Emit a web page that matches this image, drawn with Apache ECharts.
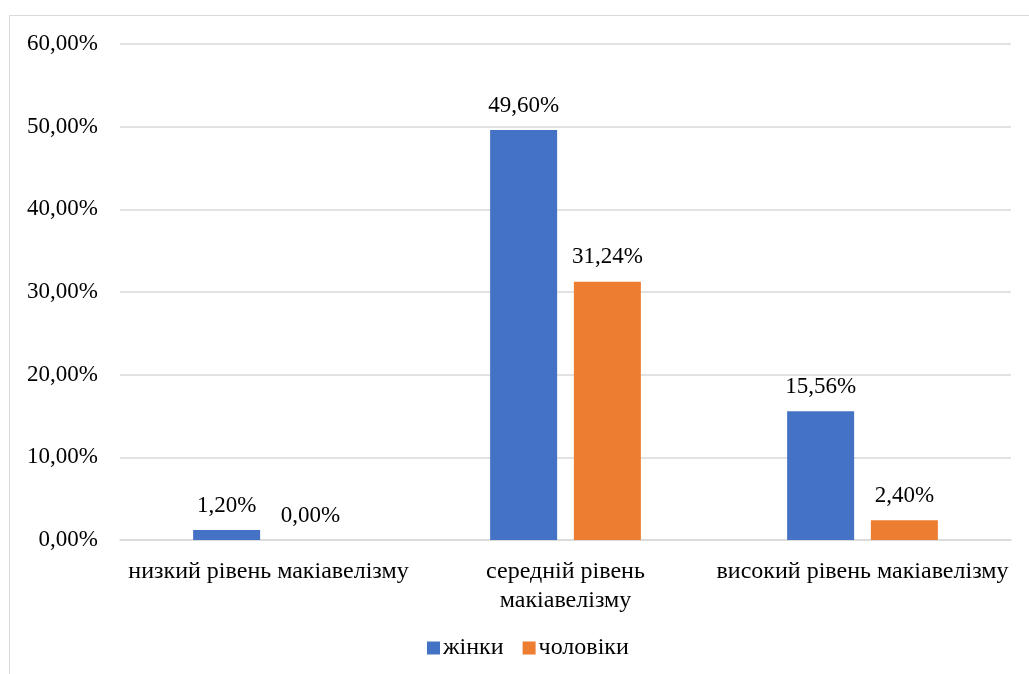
<!DOCTYPE html>
<html>
<head>
<meta charset="utf-8">
<script src="https://cdn.jsdelivr.net/npm/echarts@6/dist/echarts.min.js"></script>
<style>
  html, body { margin: 0; padding: 0; background: #fff; }
  #chart { width: 1029px; height: 674px; }
</style>
</head>
<body>
<div id="chart"></div>
<script>
// Рівні макіавелізму за статтю, %
const categories = ['низкий рівень макіавелізму', 'середній рівень\nмакіавелізму', 'високий рівень макіавелізму'];
const womenValues = [1.20, 49.60, 15.56];
const menValues = [0.00, 31.24, 2.40];
const seriesNames = ['жінки', 'чоловіки'];

const FONT = '"Liberation Serif", "Times New Roman", serif';
const fmt = v => v.toFixed(2).replace('.', ',') + '%';

const chart = echarts.init(document.getElementById('chart'), null, { renderer: 'canvas' });

const labelStyle = {
  show: true,
  position: 'top',
  distance: 13,
  fontFamily: FONT,
  fontSize: 23,
  color: '#000',
  formatter: p => fmt(p.value)
};

chart.setOption({
  animation: false,
  backgroundColor: '#fff',
  graphic: [{
    type: 'rect',
    shape: { x: 9.5, y: 15.5, width: 1100, height: 700 },
    style: { fill: 'none', stroke: '#d9d9d9', lineWidth: 1 },
    silent: true
  }],
  grid: { left: 120, right: 18, top: 44, bottom: 134, containLabel: false },
  legend: {
    data: seriesNames,
    bottom: 9,
    left: 422,
    itemWidth: 13,
    itemHeight: 13,
    itemGap: 19,
    icon: 'rect',
    textStyle: { fontFamily: FONT, fontSize: 24, color: '#000', padding: [0, 0, 0, -2] }
  },
  xAxis: {
    type: 'category',
    data: categories,
    axisLine: { show: true, lineStyle: { color: '#d9d9d9', width: 1.5 } },
    axisTick: { show: false },
    axisLabel: {
      fontFamily: FONT, fontSize: 24, color: '#000',
      margin: 17, lineHeight: 29, interval: 0
    }
  },
  yAxis: {
    type: 'value',
    min: 0,
    max: 60,
    interval: 10,
    axisLine: { show: false },
    axisTick: { show: false },
    splitLine: { lineStyle: { color: '#d9d9d9', width: 1.5 } },
    axisLabel: {
      fontFamily: FONT, fontSize: 23, color: '#000', margin: 22,
      formatter: v => fmt(v)
    }
  },
  series: [
    {
      name: seriesNames[0],
      type: 'bar',
      data: womenValues,
      barWidth: 67,
      barGap: '25%',
      itemStyle: { color: '#4472C4' },
      label: labelStyle
    },
    {
      name: seriesNames[1],
      type: 'bar',
      data: menValues,
      barWidth: 67,
      barGap: '25%',
      itemStyle: { color: '#ED7D31' },
      label: labelStyle
    }
  ]
});
</script>
</body>
</html>
